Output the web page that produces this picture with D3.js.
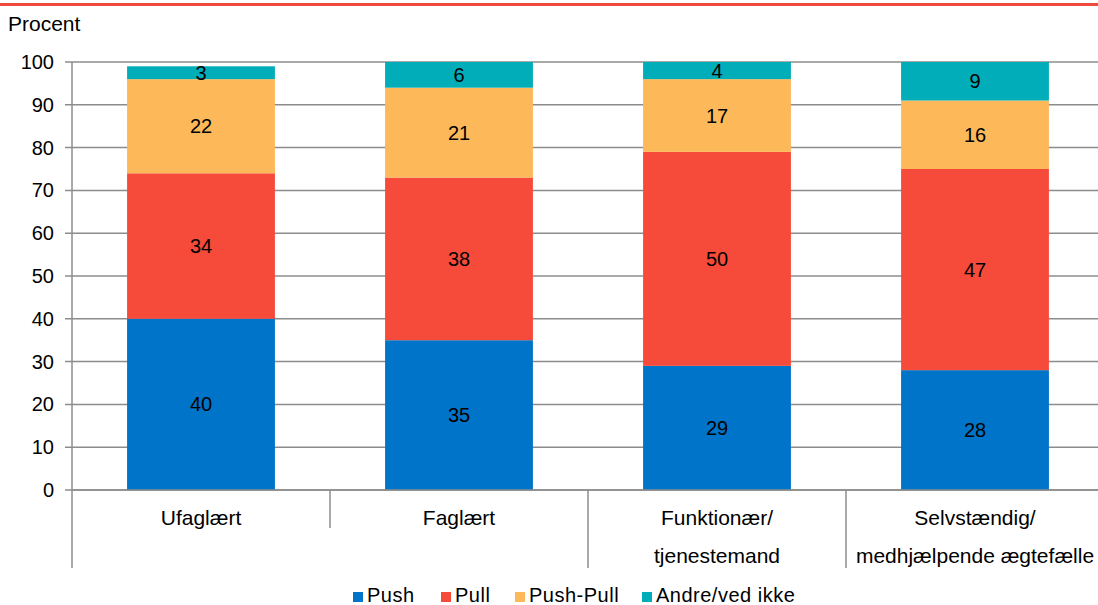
<!DOCTYPE html>
<html><head><meta charset="utf-8">
<script src="https://cdn.jsdelivr.net/npm/d3@7"></script>
<style>body{margin:0;background:#fff;}svg{display:block;font-family:"Liberation Sans",Arial,sans-serif;}</style>
</head><body><svg id="c" width="1098" height="605"></svg>
<script>
const categories = [["Ufaglært"],["Faglært"],["Funktionær/","tjenestemand"],["Selvstændig/","medhjælpende ægtefælle"]];
const seriesNames = ["Push","Pull","Push-Pull","Andre/ved ikke"];
const push = [40,35,29,28];
const pull = [34,38,50,47];
const pushPull = [22,21,17,16];
const andre = [3,6,4,9];
const yTicks = [0,10,20,30,40,50,60,70,80,90,100];
const colors = ["#0074C8","#F64B3A","#FDB85A","#00ADB8"];

(function(){
const svg = d3.select("#c");
const pL = 72, pR = 1104, pT = 62, pB = 490;
const x = d3.scaleBand().domain(d3.range(categories.length)).range([pL,pR]).paddingInner(0.427).paddingOuter(0.2135);
const y = d3.scaleLinear().domain([0,100]).range([pB,pT]);

svg.append("rect").attr("x",0).attr("y",3).attr("width",1098).attr("height",3).attr("fill","#F0483A");
svg.append("text").attr("x",8).attr("y",31).attr("font-size",21).attr("fill","#000").text("Procent");

svg.append("g").selectAll("line").data(yTicks).join("line")
  .attr("x1",65).attr("x2",pR).attr("y1",d=>y(d)).attr("y2",d=>y(d))
  .attr("stroke","#8c8c8c").attr("stroke-width",1.5);
svg.append("g").selectAll("text").data(yTicks).join("text")
  .attr("x",54).attr("y",d=>y(d)+7).attr("text-anchor","end").attr("font-size",20).text(d=>d);

const data = [push,pull,pushPull,andre];
const stacked = d3.stack().keys([0,1,2,3]).value((d,k)=>data[k][d])(d3.range(categories.length));
const g = svg.append("g");
stacked.forEach((s,k)=>{
  g.selectAll(null).data(s).join("rect")
    .attr("x",(d,i)=>x(i)).attr("width",x.bandwidth())
    .attr("y",d=>y(d[1])).attr("height",d=>y(d[0])-y(d[1]))
    .attr("fill",colors[k]);
  g.selectAll(null).data(s).join("text")
    .attr("x",(d,i)=>x(i)+x.bandwidth()/2).attr("y",d=>(y(d[0])+y(d[1]))/2+7)
    .attr("text-anchor","middle").attr("font-size",20).attr("fill","#000")
    .text((d,i)=>data[k][i]);
});

svg.append("line").attr("x1",pL).attr("x2",pL).attr("y1",pT).attr("y2",568).attr("stroke","#8c8c8c").attr("stroke-width",1.5);
svg.append("line").attr("x1",pL).attr("x2",pR).attr("y1",pB).attr("y2",pB).attr("stroke","#8c8c8c").attr("stroke-width",1.5);
const seps = [1,2,3].map(i=>pL+i*(pR-pL)/categories.length);
const sepLen = [528,568,568];
svg.append("g").selectAll("line").data(seps).join("line")
  .attr("x1",d=>d).attr("x2",d=>d).attr("y1",pB).attr("y2",(d,i)=>sepLen[i])
  .attr("stroke","#8c8c8c").attr("stroke-width",1.5);

categories.forEach((lines,i)=>{
  lines.forEach((t,j)=>{
    svg.append("text").attr("x",x(i)+x.bandwidth()/2).attr("y",525+j*38)
      .attr("text-anchor","middle").attr("font-size",21).text(t);
  });
});

const legX = [353,441,515,642];
seriesNames.forEach((n,k)=>{
  svg.append("rect").attr("x",legX[k]).attr("y",592).attr("width",10).attr("height",10).attr("fill",colors[k]);
  svg.append("text").attr("x",legX[k]+14).attr("y",602).attr("font-size",20).attr("letter-spacing",0.5).text(n);
});
})();
</script></body></html>
